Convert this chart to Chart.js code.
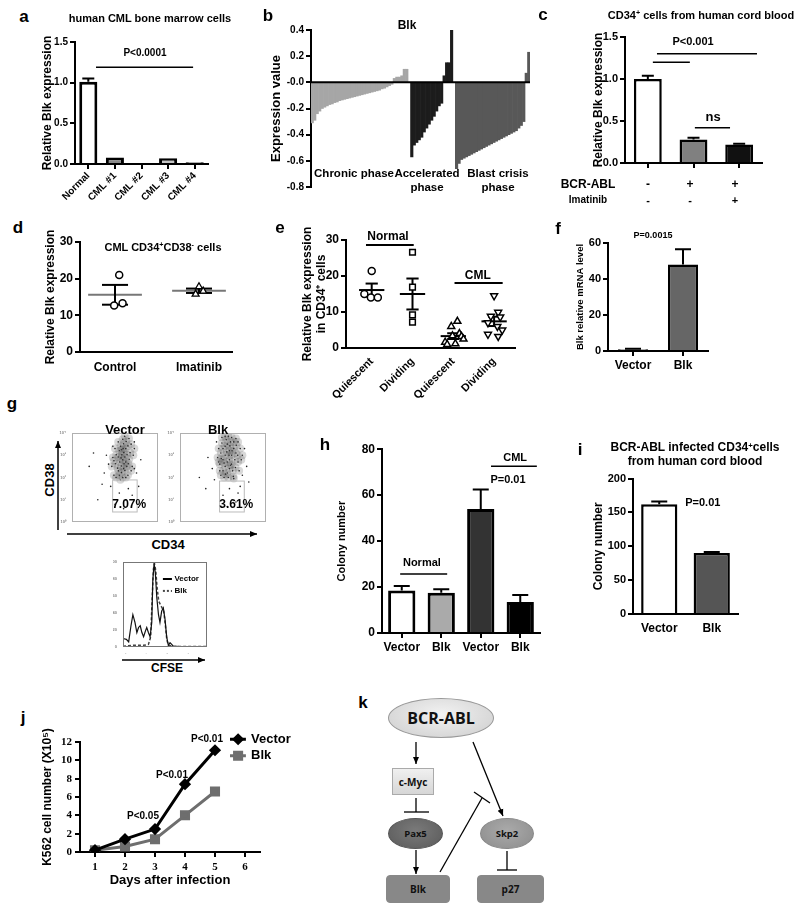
<!DOCTYPE html>
<html>
<head>
<meta charset="utf-8">
<script src="https://cdn.jsdelivr.net/npm/chart.js@4"></script>
<style>
body { margin: 0; background: #fff; width: 800px; height: 910px; position: relative; overflow: hidden;
       font-family: 'Liberation Sans', Arial, sans-serif; font-weight: bold; color: #000; }
canvas { position: absolute; }
.t { position: absolute; white-space: nowrap; transform: translate(-50%, -50%); line-height: 1; }
.t sup { font-size: 65%; vertical-align: 0.45em; line-height: 0; }
.node { position: absolute; display: flex; align-items: center; justify-content: center; box-sizing: border-box;
        font-family: 'Open Sans', 'Liberation Sans', sans-serif; font-weight: bold; color: #111; }
.ell { border-radius: 50%; border: 1px solid #999; }
.box { border: 1px solid #888; border-radius: 4px; }
</style>
</head>
<body>
<svg width="800" height="910" style="position:absolute;left:0;top:0">
  <defs>
    <marker id="ah" markerWidth="8" markerHeight="8" refX="7" refY="4" orient="auto" markerUnits="userSpaceOnUse">
      <path d="M0,1 L7,4 L0,7 z" fill="#000"/>
    </marker>
  </defs>
  <g stroke="#000" stroke-width="1.5" fill="none">
    <!-- g: flow axes -->
    <line x1="58" y1="530" x2="58" y2="441" marker-end="url(#ah)"/>
    <line x1="67" y1="534" x2="257" y2="534" marker-end="url(#ah)"/>
    <line x1="122" y1="660" x2="205" y2="660" marker-end="url(#ah)"/>
  </g>
  <g stroke="#000" stroke-width="1.3" fill="none">
    <!-- k: pathway -->
    <line x1="416" y1="742" x2="416" y2="764" marker-end="url(#ah)"/>
    <line x1="416" y1="798" x2="416" y2="812"/>
    <line x1="404" y1="812" x2="429" y2="812"/>
    <line x1="416" y1="850" x2="416" y2="874" marker-end="url(#ah)"/>
    <line x1="473" y1="742" x2="503" y2="816" marker-end="url(#ah)"/>
    <line x1="440" y1="872" x2="482" y2="798"/>
    <line x1="474" y1="792" x2="490" y2="803"/>
    <line x1="507" y1="851" x2="507" y2="870"/>
    <line x1="497" y1="870" x2="517" y2="870"/>
  </g>
</svg>

<div class="node ell" style="left:388px;top:698px;width:106px;height:40px;background:radial-gradient(ellipse at 50% 40%,#f2f2f2,#cdcdcd);font-size:16px">BCR-ABL</div>
<div class="node" style="left:392px;top:768px;width:42px;height:27px;background:linear-gradient(#f0f0f0,#d6d6d6);border:1px solid #aaa;font-size:10px">c-Myc</div>
<div class="node ell" style="left:388px;top:818px;width:55px;height:31px;background:radial-gradient(ellipse at 50% 40%,#7a7a7a,#5a5a5a);border-color:#555;font-size:9.5px">Pax5</div>
<div class="node ell" style="left:480px;top:818px;width:54px;height:31px;background:radial-gradient(ellipse at 50% 40%,#aaa,#8c8c8c);border-color:#888;font-size:9.5px">Skp2</div>
<div class="node box" style="left:386px;top:875px;width:64px;height:28px;background:#888;font-size:10px">Blk</div>
<div class="node box" style="left:477px;top:875px;width:67px;height:28px;background:#888;font-size:10px">p27</div>

<script>
// ---- data ----
// a
const aLabels = ['Normal', 'CML #1', 'CML #2', 'CML #3', 'CML #4'];
const aValues = [1.01, 0.08, 0.01, 0.07, 0.02];
const aErrors = [0.04, 0, 0, 0, 0];
// b (sorted expression values per phase)
const bChronic = [-0.31, -0.29, -0.24, -0.22, -0.20, -0.19, -0.18, -0.17, -0.165, -0.155, -0.15, -0.14, -0.135,
  -0.13, -0.125, -0.12, -0.115, -0.11, -0.105, -0.10, -0.095, -0.09, -0.085, -0.08, -0.075, -0.07, -0.065, -0.06,
  -0.05, -0.045, -0.035, -0.025, -0.015, 0.03, 0.04, 0.04, 0.05, 0.10, 0.10];
const bAccel = [-0.57, -0.48, -0.46, -0.44, -0.42, -0.38, -0.35, -0.32, -0.29, -0.26, -0.22, -0.18, -0.16,
  0.05, 0.15, 0.15, 0.40];
const bBlast = [-0.66, -0.62, -0.59, -0.58, -0.57, -0.56, -0.55, -0.54, -0.53, -0.52, -0.51, -0.50, -0.49, -0.48,
  -0.47, -0.46, -0.45, -0.44, -0.43, -0.42, -0.41, -0.40, -0.39, -0.38, -0.37, -0.35, -0.33, -0.30, 0.07, 0.23];
// c
const cValues = [1.0, 0.28, 0.22];
const cErrors = [0.04, 0.02, 0.01];
const cBcrAbl = ['-', '+', '+'];
const cImatinib = ['-', '-', '+'];
// d
const dGroups = ['Control', 'Imatinib'];
const dControl = [21.0, 12.7, 13.3];
const dControlX = [1.05, 0.99, 1.09];
const dImatinib = [17.8, 15.8, 16.6];
const dImatinibX = [2.0, 1.96, 2.05];
const dMean = [15.6, 16.7];
const dSem = [2.7, 0.6];
// e
const eLabels = ['Quiescent', 'Dividing', 'Quiescent', 'Dividing'];
const eNormQ = [21.4, 15.0, 14.0, 14.0];
const eNormQx = [1.0, 0.82, 0.98, 1.15];
const eNormD = [26.6, 16.9, 9.2, 7.2];
const eNormDx = [2, 2, 2, 2];
const eCmlQ = [7.4, 6.0, 4.0, 3.4, 3.2, 2.5, 1.6, 1.2, 1.0];
const eCmlQx = [3.1, 2.95, 3.15, 2.98, 3.2, 3.25, 2.8, 3.05, 2.85];
const eCmlD = [14.5, 9.9, 8.8, 8.6, 7.0, 6.0, 5.0, 3.8, 3.2];
const eCmlDx = [4.0, 4.1, 3.92, 4.15, 3.85, 4.08, 4.2, 3.85, 4.1];
const eMean = [16.1, 15.0, 3.3, 7.4];
const eSem = [1.8, 4.3, 0.8, 1.3];
// f
const fLabels = ['Vector', 'Blk'];
const fValues = [1, 48];
const fErrors = [0.3, 8.5];
// g (log10 decades: [CD34, CD38])
const gVecCore = [[2.20,3.20],[2.32,3.02],[2.41,3.12],[2.36,2.80],[2.50,3.30],[2.46,2.92],[2.22,2.70],[2.30,2.52],
  [2.42,2.62],[2.56,3.02],[2.60,3.42],[2.50,2.70],[2.15,2.92],[2.26,3.40],[2.40,3.52],[2.12,2.42],[2.30,2.22],
  [2.46,2.32],[2.20,2.10],[2.36,2.00],[2.62,2.62],[2.70,3.12],[2.06,3.02],[2.52,3.62],[2.36,3.72],[2.02,2.62],
  [2.66,2.82],[2.16,2.30],[2.40,2.40],[2.30,3.25],[2.28,2.88],[2.38,3.30],[2.55,2.50],[2.25,1.90],[2.45,3.85],
  [1.85,2.50],[1.90,2.90],[2.00,3.30],[2.75,3.50],[2.85,3.00],[2.80,2.50],[1.95,2.10],[2.60,2.10],[2.15,3.60],
  [2.65,3.75],[2.05,2.00],[2.90,3.30],[2.50,2.00],[1.95,2.75],[2.75,2.30]];
const gVecSparse = [[1.50,2.20],[1.80,1.60],[2.62,1.50],[3.00,2.20],[1.20,1.00],[2.90,3.60],[1.90,3.40],[2.80,1.20],
  [0.80,2.50],[2.20,1.30],[3.20,2.80],[1.60,3.00],[2.00,0.80],[1.40,1.70],[2.50,1.00],[3.10,1.60],[1.70,2.60],
  [2.90,2.40],[1.00,3.10],[2.40,0.60]];
const gBlkCore = [[2.00,3.30],[2.20,3.50],[2.30,3.20],[2.10,3.00],[2.40,3.00],[2.30,2.80],[2.50,3.30],[2.20,2.70],
  [2.00,2.80],[2.40,2.60],[2.10,2.50],[2.30,2.40],[2.55,2.80],[2.60,3.10],[1.90,3.10],[2.15,3.70],[2.35,3.60],
  [2.50,3.60],[2.00,2.30],[2.20,2.20],[2.45,2.30],[1.85,2.60],[2.70,2.70],[2.10,3.40],[2.40,3.80],[2.25,2.00],
  [1.95,3.55],[2.62,3.45],[2.28,3.00],[2.18,3.15],[2.42,3.20],[2.05,2.65],[2.35,2.55],[2.58,2.45],[1.92,2.85],
  [2.25,3.85],[2.48,2.05],[2.12,2.15],[2.68,3.00],[2.32,3.42],
  [1.75,2.90],[1.80,3.30],[1.85,2.30],[2.80,3.30],[2.85,2.80],[2.75,2.30],[1.95,3.80],[2.60,3.75],[2.05,2.00],
  [2.50,1.95],[1.80,2.70],[2.90,3.00],[2.10,3.85],[2.70,3.60],[1.90,2.10]];
const gBlkSparse = [[1.50,2.40],[2.80,1.60],[1.20,1.50],[3.10,2.50],[2.00,1.20],[2.60,0.90],[1.70,3.60],[3.00,3.30],
  [0.90,2.00],[2.30,1.50],[1.60,1.90],[2.90,2.10],[2.20,0.70],[1.30,2.90],[3.20,1.80],[2.70,1.30]];
const gVecGate = '7.07%';
const gBlkGate = '3.61%';
const gHistVecX = [0, 0.16, 0.27, 0.38, 0.47, 0.57, 0.66, 0.74, 0.82, 0.90, 0.98, 1.07, 1.13, 1.21, 1.29, 1.37, 1.42,
  1.48, 1.54, 1.61, 1.69, 1.76, 1.84, 1.92, 2.0, 2.08, 2.16, 2.24, 2.32, 2.39, 2.71, 4.0];
const gHistVec = [10, 9, 6, 25, 38, 29, 17, 23, 25, 17, 12, 19, 23, 17, 12, 29, 79, 98, 87, 58, 38, 29, 42, 46, 33,
  12, 2, 5, 3, 1, 0.5, 0.5];
const gHistBlkX = [0, 0.5, 0.98, 1.21, 1.32, 1.39, 1.45, 1.50, 1.56, 1.62, 1.70, 1.78, 1.86, 1.94, 2.02, 2.09, 2.17,
  2.39, 4.0];
const gHistBlk = [1, 2, 2, 3, 12, 58, 92, 98, 90, 71, 54, 50, 46, 42, 25, 8, 2, 0.5, 0.5];
// h
const hLabels = ['Vector', 'Blk', 'Vector', 'Blk'];
const hValues = [18.5, 17.5, 54, 13.5];
const hErrors = [2, 1.5, 8.5, 3];
// i
const iLabels = ['Vector', 'Blk'];
const iValues = [162, 90];
const iErrors = [4, 1.5];
// j
const jDays = [1, 2, 3, 4, 5];
const jVector = [0.2, 1.4, 2.5, 7.4, 11.1];
const jBlk = [0.2, 0.6, 1.4, 4.0, 6.6];
const jPvals = ['P<0.05', 'P<0.01', 'P<0.01'];

// ---- setup ----
const F = "'Liberation Sans', Arial, sans-serif";
const SERIF = "'Liberation Serif', 'Times New Roman', serif";
Chart.defaults.font.family = F;
Chart.defaults.font.weight = 'bold';
Chart.defaults.color = '#000';
Chart.defaults.animation = false;
Chart.defaults.responsive = false;
Chart.defaults.devicePixelRatio = 1;
Chart.defaults.plugins.legend.display = false;
Chart.defaults.plugins.tooltip.enabled = false;

const err = {
  id: 'err',
  afterDatasetsDraw(chart, args, o) {
    if (!o.values) return;
    const ctx = chart.ctx, meta = chart.getDatasetMeta(0), ys = chart.scales.y;
    const vals = chart.data.datasets[0].data;
    ctx.save();
    ctx.strokeStyle = '#000';
    ctx.lineWidth = o.lw || 2;
    o.values.forEach((e, i) => {
      if (!e) return;
      const bar = meta.data[i];
      const top = ys.getPixelForValue(vals[i] + e);
      ctx.beginPath();
      ctx.moveTo(bar.x, bar.y);
      ctx.lineTo(bar.x, top);
      ctx.moveTo(bar.x - o.cap, top);
      ctx.lineTo(bar.x + o.cap, top);
      ctx.stroke();
    });
    ctx.restore();
  }
};

function drawLines(chart, lines) {
  const ctx = chart.ctx, xs = chart.scales.x, ys = chart.scales.y;
  lines.forEach(l => {
    ctx.strokeStyle = l.color || '#000';
    ctx.lineWidth = l.w || 1.5;
    ctx.setLineDash(l.dash || []);
    ctx.beginPath();
    ctx.moveTo(xs.getPixelForValue(l.x1), ys.getPixelForValue(l.y1));
    ctx.lineTo(xs.getPixelForValue(l.x2), ys.getPixelForValue(l.y2));
    ctx.stroke();
  });
  ctx.setLineDash([]);
}

const ann = {
  id: 'ann',
  beforeDatasetsDraw(chart, args, o) {
    chart.ctx.save();
    drawLines(chart, (o.lines || []).filter(l => l.under));
    chart.ctx.restore();
  },
  afterDraw(chart, args, o) {
    const ctx = chart.ctx, xs = chart.scales.x, ys = chart.scales.y;
    const px = v => xs.getPixelForValue(v), py = v => ys.getPixelForValue(v);
    ctx.save();
    if (o.box) {
      const a = chart.chartArea;
      ctx.strokeStyle = o.box;
      ctx.lineWidth = 1;
      ctx.strokeRect(a.left + 0.5, a.top + 0.5, a.width - 1, a.height - 1);
    }
    (o.rects || []).forEach(r => {
      ctx.strokeStyle = r.color;
      ctx.lineWidth = 1;
      ctx.strokeRect(px(r.x1), py(r.y2), px(r.x2) - px(r.x1), py(r.y1) - py(r.y2));
    });
    drawLines(chart, (o.lines || []).filter(l => !l.under));
    (o.points || []).forEach(p => {
      ctx.fillStyle = p.color;
      ctx.strokeStyle = p.color;
      Chart.helpers.drawPoint(ctx, { pointStyle: p.style, radius: p.r, rotation: 0, borderWidth: 1 }, px(p.x), py(p.y));
    });
    (o.texts || []).forEach(t => {
      ctx.font = 'bold ' + (t.size || 11) + 'px ' + F;
      ctx.fillStyle = t.color || '#000';
      ctx.textAlign = t.align || 'center';
      ctx.textBaseline = 'middle';
      ctx.fillText(t.text, px(t.x) + (t.dx || 0), py(t.y) + (t.dy || 0));
    });
    ctx.restore();
  }
};
Chart.register(err, ann);

function axis(o) {
  const a = {
    type: o.type || 'linear',
    display: o.display !== false,
    afterFit: s => { if (o.size != null) { if (s.isHorizontal()) s.height = o.size; else s.width = o.size; } },
    border: { display: o.border !== false, color: '#000', width: o.lw || 2 },
    grid: { display: o.marks !== false, drawOnChartArea: false, offset: false, color: '#000', lineWidth: o.lw || 2, tickLength: o.tl || 5 },
    ticks: { display: o.labels !== false, font: { size: o.fs || 11, family: o.family || F, weight: 'bold' },
             color: o.tc || '#000', padding: o.tp != null ? o.tp : 2,
             minRotation: o.rot || 0, maxRotation: o.rot || 0, autoSkip: false },
    title: o.title ? { display: true, text: o.title, font: { size: o.tfs || 12, family: F, weight: 'bold' },
                       padding: o.titlePad || { top: 0, bottom: 0 } } : { display: false }
  };
  if (o.min != null) a.min = o.min;
  if (o.max != null) a.max = o.max;
  if (o.step != null) a.ticks.stepSize = o.step;
  if (o.cb) a.ticks.callback = o.cb;
  if (o.ticksAt) a.afterBuildTicks = s => { s.ticks = o.ticksAt.map(v => ({ value: v })); };
  return a;
}

function make(x, y, w, h, config) {
  const c = document.createElement('canvas');
  c.width = w;
  c.height = h;
  c.style.left = x + 'px';
  c.style.top = y + 'px';
  document.body.appendChild(c);
  return new Chart(c, config);
}

function txt(x, y, html, size, style) {
  const d = document.createElement('div');
  d.className = 't';
  d.style.left = x + 'px';
  d.style.top = y + 'px';
  d.style.fontSize = size + 'px';
  if (style) d.style.cssText += style;
  d.innerHTML = html;
  document.body.appendChild(d);
}

function meanSem(xs, means, sems, half, cap, color) {
  const out = [];
  xs.forEach((x, i) => {
    const hi = means[i] + sems[i], lo = means[i] - sems[i];
    out.push({ x1: x - half, x2: x + half, y1: means[i], y2: means[i], color: color, w: 2, under: true });
    out.push({ x1: x, x2: x, y1: lo, y2: hi, w: 2, under: true });
    out.push({ x1: x - cap, x2: x + cap, y1: hi, y2: hi, w: 2, under: true });
    out.push({ x1: x - cap, x2: x + cap, y1: lo, y2: lo, w: 2, under: true });
  });
  return out;
}

const toXY = (xs, ys) => ys.map((v, i) => ({ x: xs[i], y: v }));
const pairs = arr => arr.map(p => ({ x: p[0], y: p[1] }));

// ---- a ----
make(30, 30, 190, 175, {
  type: 'bar',
  data: { labels: aLabels, datasets: [{ data: aValues, backgroundColor: ['#fff', '#8a8a8a', '#fff', '#c4c4c4', '#fff'],
    borderColor: '#000', borderWidth: 3, barPercentage: 0.68, categoryPercentage: 1 }] },
  options: {
    layout: { padding: { top: 12, right: 12, left: 0, bottom: 0 } },
    scales: {
      x: axis({ type: 'category', size: 41, fs: 10, rot: 45, tp: 1 }),
      y: axis({ min: 0, max: 1.5, step: 0.5, size: 45, fs: 10, cb: v => v.toFixed(1),
                title: 'Relative Blk expression', tfs: 12, titlePad: { top: 10, bottom: 0 } })
    },
    plugins: {
      err: { values: aErrors, cap: 6 },
      ann: { lines: [{ x1: 0.29, x2: 3.94, y1: 1.19, y2: 1.19, w: 1.5 }],
             texts: [{ x: 2.13, y: 1.365, text: 'P<0.0001', size: 10 }] }
    }
  }
});

// ---- b ----
const bValues = [...bChronic, null, ...bAccel, null, ...bBlast];
const bColors = [...bChronic.map(() => '#a6a6a6'), '#fff', ...bAccel.map(() => '#1c1c1c'), '#fff', ...bBlast.map(() => '#585858')];
make(265, 20, 270, 180, {
  type: 'bar',
  data: { labels: bValues.map(() => ''), datasets: [{ data: bValues, backgroundColor: bColors, borderWidth: 0,
    barPercentage: 1, categoryPercentage: 1 }] },
  options: {
    layout: { padding: { top: 10, right: 5, left: 0, bottom: 13 } },
    scales: {
      x: { display: false },
      y: axis({ min: -0.8, max: 0.4, step: 0.2, size: 46, fs: 10,
                cb: v => (Math.abs(v) < 1e-9 ? '-0.0' : v.toFixed(1)),
                title: 'Expression value', tfs: 13, titlePad: { top: 4, bottom: 0 } })
    },
    plugins: { ann: { lines: [{ x1: -0.5, x2: bValues.length - 0.5, y1: 0, y2: 0, w: 2 }] } }
  }
});

// ---- c ----
make(570, 25, 200, 150, {
  type: 'bar',
  data: { labels: cValues.map(() => ''), datasets: [{ data: cValues, backgroundColor: ['#fff', '#808080', '#111'],
    borderColor: '#000', borderWidth: 2.5, barPercentage: 0.61, categoryPercentage: 1 }] },
  options: {
    layout: { padding: { top: 12, right: 8, left: 0, bottom: 0 } },
    scales: {
      x: axis({ type: 'category', size: 12, labels: false }),
      y: axis({ min: 0, max: 1.5, step: 0.5, size: 55, fs: 11, cb: v => v.toFixed(1),
                title: 'Relative Blk expression', tfs: 12, titlePad: { top: 21, bottom: 0 } })
    },
    plugins: {
      err: { values: cErrors, cap: 6 },
      ann: { lines: [{ x1: 0.2, x2: 2.39, y1: 1.30, y2: 1.30 }, { x1: 0.11, x2: 0.92, y1: 1.20, y2: 1.20 },
                     { x1: 1.03, x2: 1.8, y1: 0.42, y2: 0.42 }],
             texts: [{ x: 0.99, y: 1.44, text: 'P<0.001', size: 11 }, { x: 1.43, y: 0.54, text: 'ns', size: 13 }] }
    }
  }
});

// ---- d ----
make(30, 214, 210, 158, {
  type: 'scatter',
  data: { datasets: [
    { data: toXY(dControlX, dControl), pointStyle: 'circle', pointRadius: 3.5, borderColor: '#000', borderWidth: 1.5, backgroundColor: '#fff' },
    { data: toXY(dImatinibX, dImatinib), pointStyle: 'triangle', pointRadius: 4, borderColor: '#000', borderWidth: 1.3, backgroundColor: '#fff' }
  ] },
  options: {
    layout: { padding: { top: 28, right: 8, left: 0, bottom: 0 } },
    scales: {
      x: axis({ min: 0.583, max: 2.393, size: 20, fs: 12, tp: 3, marks: false, ticksAt: [1, 2], cb: v => dGroups[v - 1] }),
      y: axis({ min: 0, max: 30, step: 10, size: 50, fs: 12,
                title: 'Relative Blk expression', tfs: 12, titlePad: { top: 13, bottom: 0 } })
    },
    plugins: { ann: { lines: meanSem([1, 2], dMean, dSem, 0.32, 0.155, '#777') } }
  }
});

// ---- e ----
make(280, 212, 240, 190, {
  type: 'scatter',
  data: { datasets: [
    { data: toXY(eNormQx, eNormQ), pointStyle: 'circle', pointRadius: 3.5, borderColor: '#000', borderWidth: 1.5, backgroundColor: '#fff' },
    { data: toXY(eNormDx, eNormD), pointStyle: 'rect', pointRadius: 4, borderColor: '#000', borderWidth: 1.5, backgroundColor: '#fff' },
    { data: toXY(eCmlQx, eCmlQ), pointStyle: 'triangle', pointRadius: 4, borderColor: '#000', borderWidth: 1.5, backgroundColor: '#fff' },
    { data: toXY(eCmlDx, eCmlD), pointStyle: 'triangle', rotation: 180, pointRadius: 4, borderColor: '#000', borderWidth: 1.5, backgroundColor: '#fff' }
  ] },
  options: {
    layout: { padding: { top: 28, right: 5, left: 0, bottom: 0 } },
    scales: {
      x: axis({ min: 0.37, max: 4.5, size: 54, fs: 11, rot: 45, tp: 2, marks: false, ticksAt: [1, 2, 3, 4], cb: v => eLabels[v - 1] }),
      y: axis({ min: 0, max: 30, step: 10, size: 66, fs: 12,
                title: ['Relative Blk expression', 'in CD34\u207A cells'], tfs: 12, titlePad: { top: 20, bottom: 0 } })
    },
    plugins: { ann: {
      lines: meanSem([1, 2, 3, 4], eMean, eSem, 0.31, 0.15, '#000')
        .concat([{ x1: 0.86, x2: 2.03, y1: 28.6, y2: 28.6, w: 2 }, { x1: 3.03, x2: 4.21, y1: 18.05, y2: 18.05, w: 2 }]),
      texts: [{ x: 1.4, y: 30.8, text: 'Normal', size: 12 }, { x: 3.6, y: 20, text: 'CML', size: 12 }]
    } }
  }
});

// ---- f ----
make(570, 220, 145, 153, {
  type: 'bar',
  data: { labels: fLabels, datasets: [{ data: fValues, backgroundColor: ['#888', '#666'], borderColor: '#000',
    borderWidth: 2.5, barPercentage: 0.6, categoryPercentage: 1 }] },
  options: {
    layout: { padding: { top: 23, right: 7, left: 0, bottom: 0 } },
    scales: {
      x: axis({ type: 'category', size: 22, fs: 12, tp: 2 }),
      y: axis({ min: 0, max: 60, step: 20, size: 38, fs: 11,
                title: 'Blk relative mRNA level', tfs: 9.5, titlePad: { top: 5, bottom: 0 } })
    },
    plugins: {
      err: { values: fErrors, cap: 8 },
      ann: { texts: [{ x: 0.4, y: 63.9, text: 'P=0.0015', size: 9 }] }
    }
  }
});

// ---- g: flow scatter ----
const sup = ['\u2070', '\u00B9', '\u00B2', '\u00B3', '\u2074'];
function flow(x, data, sparse, gate, gx1, gx2, gy2) {
  make(x, 428, 105, 100, {
    type: 'scatter',
    data: { datasets: [
      { data: pairs(data), pointRadius: 4, backgroundColor: 'rgba(60,60,60,0.2)', borderWidth: 0 },
      { data: pairs(data.concat(sparse)), pointRadius: 0.8, backgroundColor: '#222', borderWidth: 0 }
    ] },
    options: {
      layout: { padding: { top: 5, right: 5, left: 0, bottom: 0 } },
      scales: {
        x: axis({ min: 0, max: 4, step: 1, size: 6, fs: 4, tc: '#888', tp: 1, border: false, marks: false, cb: v => '10' + sup[v] }),
        y: axis({ min: 0, max: 4, step: 1, size: 14, fs: 4, tc: '#888', tp: 1, border: false, marks: false, cb: v => '10' + sup[v] })
      },
      plugins: { ann: {
        box: '#b0b0b0',
        rects: [{ x1: gx1, x2: gx2, y1: 0.45, y2: gy2, color: '#bbb' }],
        texts: [{ x: (gx1 + gx2) / 2 + 0.2, y: 0.76, text: gate, size: 12 }]
      } }
    }
  });
}
flow(58, gVecCore, gVecSparse, gVecGate, 1.89, 3.03, 1.89);
flow(166, gBlkCore, gBlkSparse, gBlkGate, 1.84, 2.99, 1.84);

// ---- g: CFSE histogram ----
make(113, 557, 100, 97, {
  type: 'scatter',
  data: { datasets: [
    { data: toXY(gHistVecX, gHistVec), showLine: true, pointRadius: 0, borderColor: '#111', borderWidth: 1.2 },
    { data: toXY(gHistBlkX, gHistBlk), showLine: true, pointRadius: 0, borderColor: '#444', borderWidth: 1.5, borderDash: [3, 2] }
  ] },
  options: {
    layout: { padding: { top: 5, right: 6, left: 0, bottom: 0 } },
    scales: {
      x: axis({ min: 0, max: 4, step: 1, size: 7, fs: 4, tc: '#888', tp: 1, border: false, marks: false, cb: v => '10' + sup[v] }),
      y: axis({ min: 0, max: 100, step: 20, size: 10, fs: 4, tc: '#888', tp: 1, border: false, marks: false })
    },
    plugins: { ann: {
      box: '#777',
      lines: [{ x1: 1.9, x2: 2.33, y1: 80, y2: 80, w: 2 }, { x1: 1.9, x2: 2.33, y1: 66, y2: 66, w: 2, dash: [2, 2], color: '#444' }],
      texts: [{ x: 2.45, y: 80, text: 'Vector', size: 8, align: 'left' }, { x: 2.45, y: 66, text: 'Blk', size: 8, align: 'left' }]
    } }
  }
});

// ---- h ----
make(330, 440, 215, 220, {
  type: 'bar',
  data: { labels: hLabels, datasets: [{ data: hValues, backgroundColor: ['#fff', '#aaa', '#333', '#000'], borderColor: '#000',
    borderWidth: 3, barPercentage: 0.69, categoryPercentage: 1 }] },
  options: {
    layout: { padding: { top: 9, right: 5, left: 0, bottom: 0 } },
    scales: {
      x: axis({ type: 'category', size: 27, fs: 12, tp: 2 }),
      y: axis({ min: 0, max: 80, step: 20, size: 52, fs: 12,
                title: 'Colony number', tfs: 11, titlePad: { top: 5, bottom: 0 } })
    },
    plugins: {
      err: { values: hErrors, cap: 8 },
      ann: { lines: [{ x1: -0.04, x2: 1.15, y1: 25.7, y2: 25.7, w: 1.5 }, { x1: 2.26, x2: 3.42, y1: 72.6, y2: 72.6, w: 1.5 }],
             texts: [{ x: 0.51, y: 30.4, text: 'Normal', size: 11 }, { x: 2.87, y: 76.1, text: 'CML', size: 11 },
                     { x: 2.69, y: 66.5, text: 'P=0.01', size: 11 }] }
    }
  }
});

// ---- i ----
make(590, 470, 155, 170, {
  type: 'bar',
  data: { labels: iLabels, datasets: [{ data: iValues, backgroundColor: ['#fff', '#555'], borderColor: '#000',
    borderWidth: 2.5, barPercentage: 0.69, categoryPercentage: 1 }] },
  options: {
    layout: { padding: { top: 8, right: 7, left: 0, bottom: 0 } },
    scales: {
      x: axis({ type: 'category', size: 26, fs: 12, tp: 2, marks: false }),
      y: axis({ min: 0, max: 200, step: 50, size: 43, fs: 11,
                title: 'Colony number', tfs: 12, titlePad: { top: 1, bottom: 0 } })
    },
    plugins: {
      err: { values: iErrors, cap: 8 },
      ann: { texts: [{ x: 0.83, y: 164.7, text: 'P=0.01', size: 11 }] }
    }
  }
});

// ---- j ----
make(30, 712, 270, 183, {
  type: 'scatter',
  data: { datasets: [
    { data: toXY(jDays, jVector), showLine: true, borderColor: '#000', backgroundColor: '#000', borderWidth: 3,
      pointStyle: 'rectRot', pointRadius: 4 },
    { data: toXY(jDays, jBlk), showLine: true, borderColor: '#6e6e6e', backgroundColor: '#6e6e6e', borderWidth: 3,
      pointStyle: 'rect', pointRadius: 5 }
  ] },
  options: {
    layout: { padding: { top: 30, right: 40, left: 0, bottom: 0 } },
    scales: {
      x: axis({ min: 0.5, max: 6.5, size: 43, fs: 11, family: SERIF, tp: 4, ticksAt: [1, 2, 3, 4, 5, 6],
                title: 'Days after infection', tfs: 13, titlePad: { top: 0, bottom: 7 } }),
      y: axis({ min: 0, max: 12, step: 2, size: 50, fs: 11, family: SERIF, tp: 3,
                title: 'K562 cell number (X10\u2075)', tfs: 12, titlePad: { top: 10, bottom: 0 } })
    },
    plugins: { ann: {
      lines: [{ x1: 5.5, x2: 6.03, y1: 12.3, y2: 12.3, w: 3 }, { x1: 5.5, x2: 6.03, y1: 10.5, y2: 10.5, w: 3, color: '#6e6e6e' }],
      points: [{ x: 5.77, y: 12.3, style: 'rectRot', r: 4, color: '#000' }, { x: 5.77, y: 10.5, style: 'rect', r: 5, color: '#6e6e6e' }],
      texts: [{ x: 6.2, y: 12.3, text: 'Vector', size: 13, align: 'left' }, { x: 6.2, y: 10.5, text: 'Blk', size: 13, align: 'left' },
              { x: jDays[2], y: jVector[2], dx: -12, dy: -13, text: jPvals[0], size: 10 },
              { x: jDays[3], y: jVector[3], dx: -13, dy: -9, text: jPvals[1], size: 10 },
              { x: jDays[4], y: jVector[4], dx: -8, dy: -11, text: jPvals[2], size: 10 }]
    } }
  }
});

// ---- loose text ----
[['a', 24, 16], ['b', 268, 15], ['c', 543, 14], ['d', 18, 227], ['e', 280, 227], ['f', 558, 228], ['g', 12, 403],
 ['h', 325, 444], ['i', 580, 449], ['j', 23, 717], ['k', 363, 702]].forEach(l => txt(l[1], l[2], l[0], 17));

txt(150, 18, 'human CML bone marrow cells', 11);
txt(407, 25, 'Blk', 12);
txt(354, 174, 'Chronic phase', 11.5);
txt(427, 174, 'Accelerated', 11.5);
txt(427, 188, 'phase', 11.5);
txt(498, 174, 'Blast crisis', 11.5);
txt(498, 188, 'phase', 11.5);
txt(701, 15, 'CD34<sup>+</sup> cells from human cord blood', 11);
txt(588, 184, 'BCR-ABL', 12);
txt(588, 200, 'Imatinib', 10);
[648, 690, 735].forEach((x, i) => { txt(x, 184, cBcrAbl[i], 12); txt(x, 200, cImatinib[i], 11); });
txt(163, 247, 'CML CD34<sup>+</sup>CD38<sup>-</sup> cells', 11);
txt(125, 429, 'Vector', 13);
txt(218, 429, 'Blk', 13);
txt(49, 480, 'CD38', 13, 'transform:translate(-50%,-50%) rotate(-90deg)');
txt(168, 544, 'CD34', 13);
txt(167, 668, 'CFSE', 12);
txt(695, 447, 'BCR-ABL infected CD34<sup>+</sup>cells', 12);
txt(695, 461, 'from human cord blood', 12);
</script>
</body>
</html>
